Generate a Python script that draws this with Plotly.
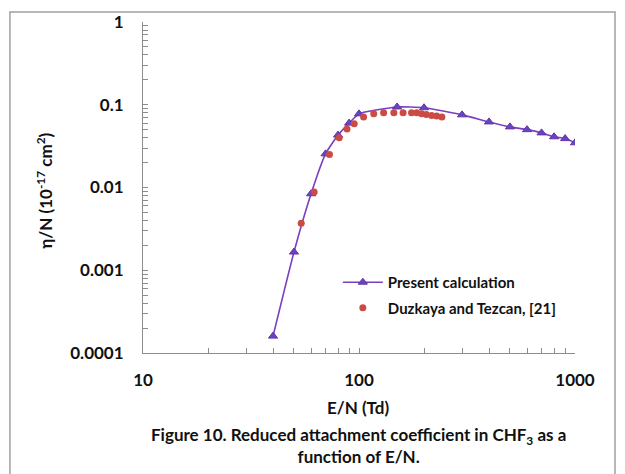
import plotly.graph_objects as go

# Present calculation
calc_en = [40, 50, 60, 70, 80, 90, 100, 150, 200, 300, 400, 500, 600, 700, 800, 900, 1000]
calc_eta = [1.6e-4, 1.66e-3, 8.4e-3, 0.0255, 0.043, 0.060, 0.0776, 0.094, 0.092,
            0.0755, 0.062, 0.054, 0.050, 0.0457, 0.041, 0.039, 0.0347]

# Duzkaya and Tezcan, [21]
exp_en = [54, 62, 73, 81, 88, 95, 105, 117, 130, 145, 160, 175, 185, 195, 205, 217, 229, 242]
exp_eta = [0.0037, 0.0088, 0.025, 0.040, 0.051, 0.059, 0.071, 0.078, 0.080, 0.080,
           0.080, 0.080, 0.080, 0.078, 0.076, 0.074, 0.073, 0.071]

x_ticks = [10, 100, 1000]
x_ticklabels = ["10", "100", "1000"]
y_ticks = [0.0001, 0.001, 0.01, 0.1, 1]
y_ticklabels = ["0.0001", "0.001", "0.01", "0.1", "1"]

x_minor = [m * d for d in (10, 100) for m in range(2, 10)]
y_minor = [m * d for d in (0.0001, 0.001, 0.01, 0.1) for m in range(2, 10)]

FONT = "Lato"
BOLD = dict(family=FONT, size=17, color="#111111", weight="bold")

fig = go.Figure()
fig.add_trace(go.Scatter(
    x=calc_en, y=calc_eta, mode="lines+markers", name="Present calculation",
    legendgroup="a",
    line=dict(color="#7a3fc0", width=1.6, shape="spline", smoothing=0.5),
    marker=dict(symbol="triangle-up", size=8, color="#5a4ac8",
                line=dict(color="#7030a0", width=1)),
))
fig.add_trace(go.Scatter(
    x=exp_en, y=exp_eta, mode="markers", name="Duzkaya and Tezcan, [21]",
    legendgroup="b",
    marker=dict(symbol="circle", size=7, color="#cc4a44"),
))

axis_common = dict(
    showgrid=False, zeroline=False, showline=True, linecolor="#8c8c8c", linewidth=1,
    ticks="inside", ticklen=5, tickcolor="#8c8c8c",
    tickfont=BOLD, mirror=False, automargin=False,
)

fig.update_xaxes(type="log", range=[1, 3], tickvals=x_ticks, ticktext=x_ticklabels,
                 minor=dict(ticks="inside", ticklen=5, tickcolor="#8c8c8c", tickvals=x_minor, showgrid=False),
                 ticklabelstandoff=12,
                 **axis_common)
fig.update_yaxes(type="log", range=[-4, 0], tickvals=y_ticks, ticktext=y_ticklabels,
                 minor=dict(ticks="inside", ticklen=5, tickcolor="#8c8c8c", tickvals=y_minor, showgrid=False),
                 ticklabelstandoff=15,
                 **axis_common)

# Axis titles and caption
fig.add_annotation(text="E/N (Td)", xref="paper", yref="paper", x=0.498, y=-0.166,
                   xanchor="center", yanchor="middle", showarrow=False, font=BOLD)
fig.add_annotation(text="η/N (10<sup>-17</sup> cm<sup>2</sup>)", xref="paper", yref="paper",
                   x=-0.227, y=0.49, xanchor="center", yanchor="middle", textangle=-90,
                   showarrow=False, font=BOLD)
fig.add_annotation(text="Figure 10. Reduced attachment coefficient in CHF<sub>3</sub> as a<br>function of E/N.",
                   xref="paper", yref="paper", x=0.498, y=-0.28, yanchor="middle", xanchor="center",
                   showarrow=False, font=BOLD, align="center")

fig.add_shape(type="rect", xref="paper", yref="paper", x0=-0.308, x1=1.0926, y0=-0.42, y1=1.0302,
              line=dict(color="#a0a0a0", width=1.5), layer="below")

fig.update_layout(
    width=625, height=474,
    margin=dict(l=135, r=58, t=14, b=129, autoexpand=False),
    paper_bgcolor="white", plot_bgcolor="white",
    font=dict(family=FONT, color="#111111"),
    legend=dict(x=0.451, y=0.263, xanchor="left", yanchor="top",
                font=dict(family=FONT, size=15, color="#111111", weight="bold"),
                bgcolor="rgba(0,0,0,0)", tracegroupgap=3, itemwidth=40),
    showlegend=True,
)

fig.write_html("out.html")
